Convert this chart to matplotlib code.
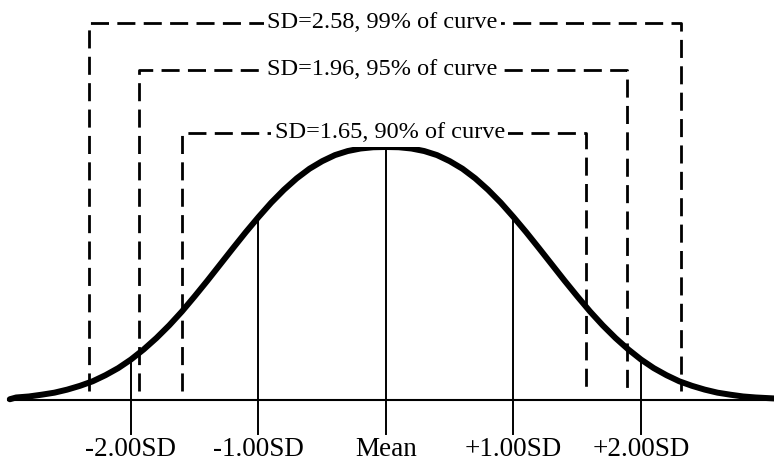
import matplotlib.pyplot as plt

plt.rcParams['font.family'] = ['Liberation Serif', 'DejaVu Serif']

# === Values (x in SD units, height as fraction of peak) ===
curve_x = [-2.95, -2.9, -2.8, -2.7, -2.6, -2.5, -2.4, -2.3, -2.2, -2.1, -2.0,
           -1.9, -1.8, -1.7, -1.6, -1.5, -1.4, -1.3, -1.2, -1.1, -1.0,
           -0.9, -0.8, -0.7, -0.6, -0.5, -0.4, -0.3, -0.2, -0.1, 0.0,
           0.1, 0.2, 0.3, 0.4, 0.5, 0.6, 0.7, 0.8, 0.9, 1.0,
           1.1, 1.2, 1.3, 1.4, 1.5, 1.6, 1.7, 1.8, 1.9, 2.0,
           2.1, 2.2, 2.3, 2.4, 2.5, 2.6, 2.7, 2.8, 2.9, 3.05]
curve_y = [0.003, 0.010, 0.014, 0.021, 0.029, 0.041, 0.056, 0.074, 0.098, 0.126, 0.160,
           0.200, 0.245, 0.295, 0.350, 0.410, 0.472, 0.536, 0.600, 0.663, 0.723,
           0.780, 0.831, 0.876, 0.914, 0.944, 0.968, 0.984, 0.994, 0.999, 1.000,
           0.999, 0.994, 0.984, 0.968, 0.944, 0.914, 0.876, 0.831, 0.780, 0.723,
           0.663, 0.600, 0.536, 0.472, 0.410, 0.350, 0.295, 0.245, 0.200, 0.160,
           0.126, 0.098, 0.074, 0.056, 0.041, 0.029, 0.021, 0.014, 0.010, 0.006]

tick_x = [-2, -1, 0, 1, 2]
tick_top = [0.160, 0.723, 1.000, 0.723, 0.160]
tick_labels = ["-2.00SD", "-1.00SD", "Mean", "+1.00SD", "+2.00SD"]

bracket_labels = ["SD=2.58, 99% of curve",
                  "SD=1.96, 95% of curve",
                  "SD=1.65, 90% of curve"]
bracket_left = [-2.33, -1.94, -1.60]
bracket_right = [2.31, 1.89, 1.57]
bracket_top = [1.489, 1.304, 1.054]
bracket_text_x = [-0.03, -0.03, 0.03]

# === Figure: one axes filling the canvas ===
fig = plt.figure(figsize=(7.74, 4.63), dpi=100)
ax = fig.add_axes([0, 0, 1, 1])
ax.set_xlim(-3.027, 3.043)
ax.set_ylim(-0.249, 1.581)
ax.axis('off')

# baseline
ax.plot([-2.97, 3.043], [0, 0], color='black', lw=1.5, solid_capstyle='butt')

# solid SD lines + labels
for x, top, lab in zip(tick_x, tick_top, tick_labels):
    ax.plot([x, x], [-0.134, top], color='black', lw=1.4)
    ax.text(x, -0.221, lab, ha='center', va='baseline', fontsize=19.5)

# dashed brackets
for left, right, top, lab, tx in zip(bracket_left, bracket_right, bracket_top,
                                     bracket_labels, bracket_text_x):
    ax.plot([left, left, right, right], [0.034, top, top, 0.034],
            color='black', lw=2.0, dashes=(6.5, 3.0), solid_joinstyle='miter')
    ax.text(tx, top - 0.019, lab, ha='center', va='baseline', fontsize=17.5,
            bbox=dict(facecolor='white', edgecolor='none', pad=2.5))

# the curve
ax.plot(curve_x, curve_y, color='black', lw=4.3, solid_joinstyle='round',
        solid_capstyle='round')

fig.savefig("out.png", dpi=100)
